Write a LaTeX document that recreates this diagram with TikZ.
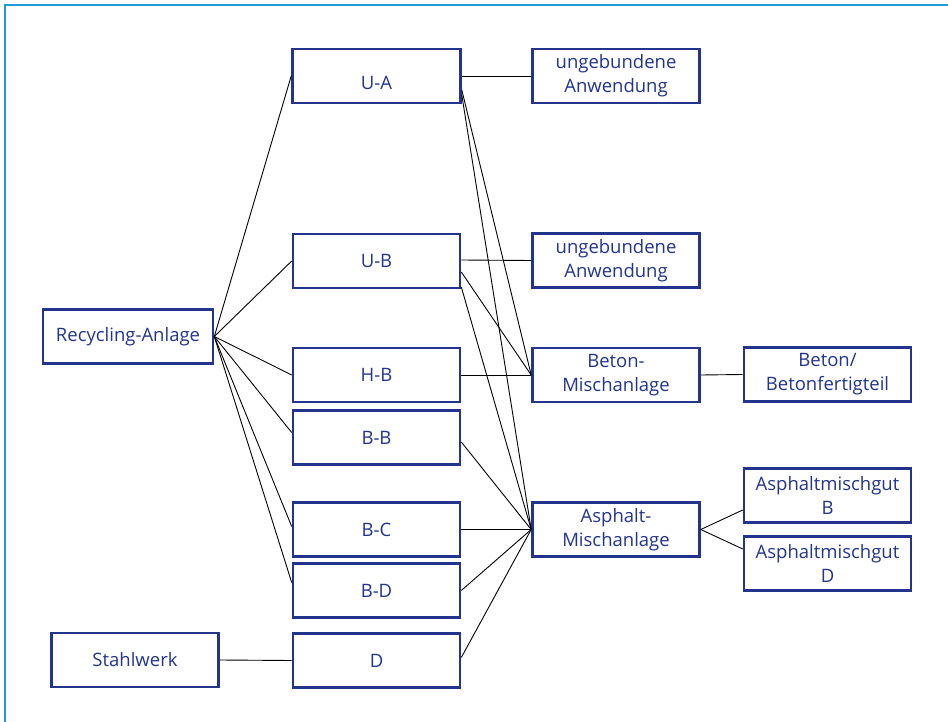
\documentclass[tikz,border=0pt]{standalone}
\usepackage{fontspec}
\setmainfont{Open Sans}
\usetikzlibrary{calc}
\definecolor{boxblue}{RGB}{34,52,140}
\definecolor{framec}{RGB}{30,154,214}
\begin{document}
\begin{tikzpicture}[x=1pt,y=-1pt,
  box/.style={draw=boxblue, line width=2.6pt, text=boxblue, minimum width=167pt, minimum height=54pt, inner sep=0pt, align=center, font=\fontsize{18.5}{24}\selectfont},
  lbl/.style={text=boxblue, inner sep=0pt, font=\fontsize{18.5}{24}\selectfont},
  conn/.style={draw=black, line width=0.9pt}]
\useasboundingbox (0,0) rectangle (948,722);
\draw[framec, line width=2pt] (5,722) -- (5,5) -- (948,5);

\node[box, minimum width=168pt, label={[lbl,yshift=-7pt]center:U-A}] (ua) at (376.5,76) {};
\node[box] (ug1) at (616,76) {ungebundene\\Anwendung};
\node[box] (ub) at (376.5,261) {U-B};
\node[box] (ug2) at (616,260.5) {ungebundene\\Anwendung};
\node[box] (hb) at (376.5,375) {H-B};
\node[box] (bm) at (616,375) {Beton-\\Mischanlage};
\node[box] (bb) at (376.5,437.5) {B-B};
\node[box] (bc) at (376.5,529.5) {B-C};
\node[box] (bd) at (376.5,590.5) {B-D};
\node[box] (d) at (376.5,660.5) {D};
\node[box] (am) at (616,529.5) {Asphalt-\\Mischanlage};
\node[box, minimum width=170pt] (ra) at (128,336.5) {Recycling-Anlage};
\node[box] (sw) at (135,660) {Stahlwerk};
\node[box] (bf) at (827.5,374.5) {Beton/\\Betonfertigteil};
\node[box] (ab) at (827.5,495.5) {Asphaltmischgut\\B};
\node[box] (ad) at (827.5,563.5) {Asphaltmischgut\\D};

\draw[conn] (ra.east) -- (ua.west);
\draw[conn] (ra.east) -- (ub.west);
\draw[conn] (ra.east) -- (hb.west);
\draw[conn] (ra.east) -- ($(bb.west)+(0,-5)$);
\draw[conn] (ra.east) -- ($(bc.west)+(0,-3)$);
\draw[conn] (ra.east) -- ($(bd.west)+(0,-8)$);
\draw[conn] (sw.east) -- (d.west);

\draw[conn] (ua.east) -- (ug1.west);
\draw[conn] ($(ub.east)+(0,-1)$) -- (ug2.west);
\draw[conn] (hb.east) -- (bm.west);

\draw[conn] ($(ua.east)+(0,14)$) -- (bm.west);
\draw[conn] ($(ua.east)+(0,19)$) -- (am.west);
\draw[conn] ($(ub.east)+(0,11)$) -- (bm.west);
\draw[conn] ($(ub.east)+(0,26)$) -- (am.west);
\draw[conn] ($(bb.east)+(0,4.5)$) -- (am.west);
\draw[conn] (bc.east) -- (am.west);
\draw[conn] (bd.east) -- (am.west);
\draw[conn] ($(d.east)+(0,-3)$) -- (am.west);

\draw[conn] (bm.east) -- (bf.west);
\draw[conn] (am.east) -- ($(ab.west)+(0,14.5)$);
\draw[conn] (am.east) -- ($(ad.west)+(0,-14.5)$);
\end{tikzpicture}
\end{document}
